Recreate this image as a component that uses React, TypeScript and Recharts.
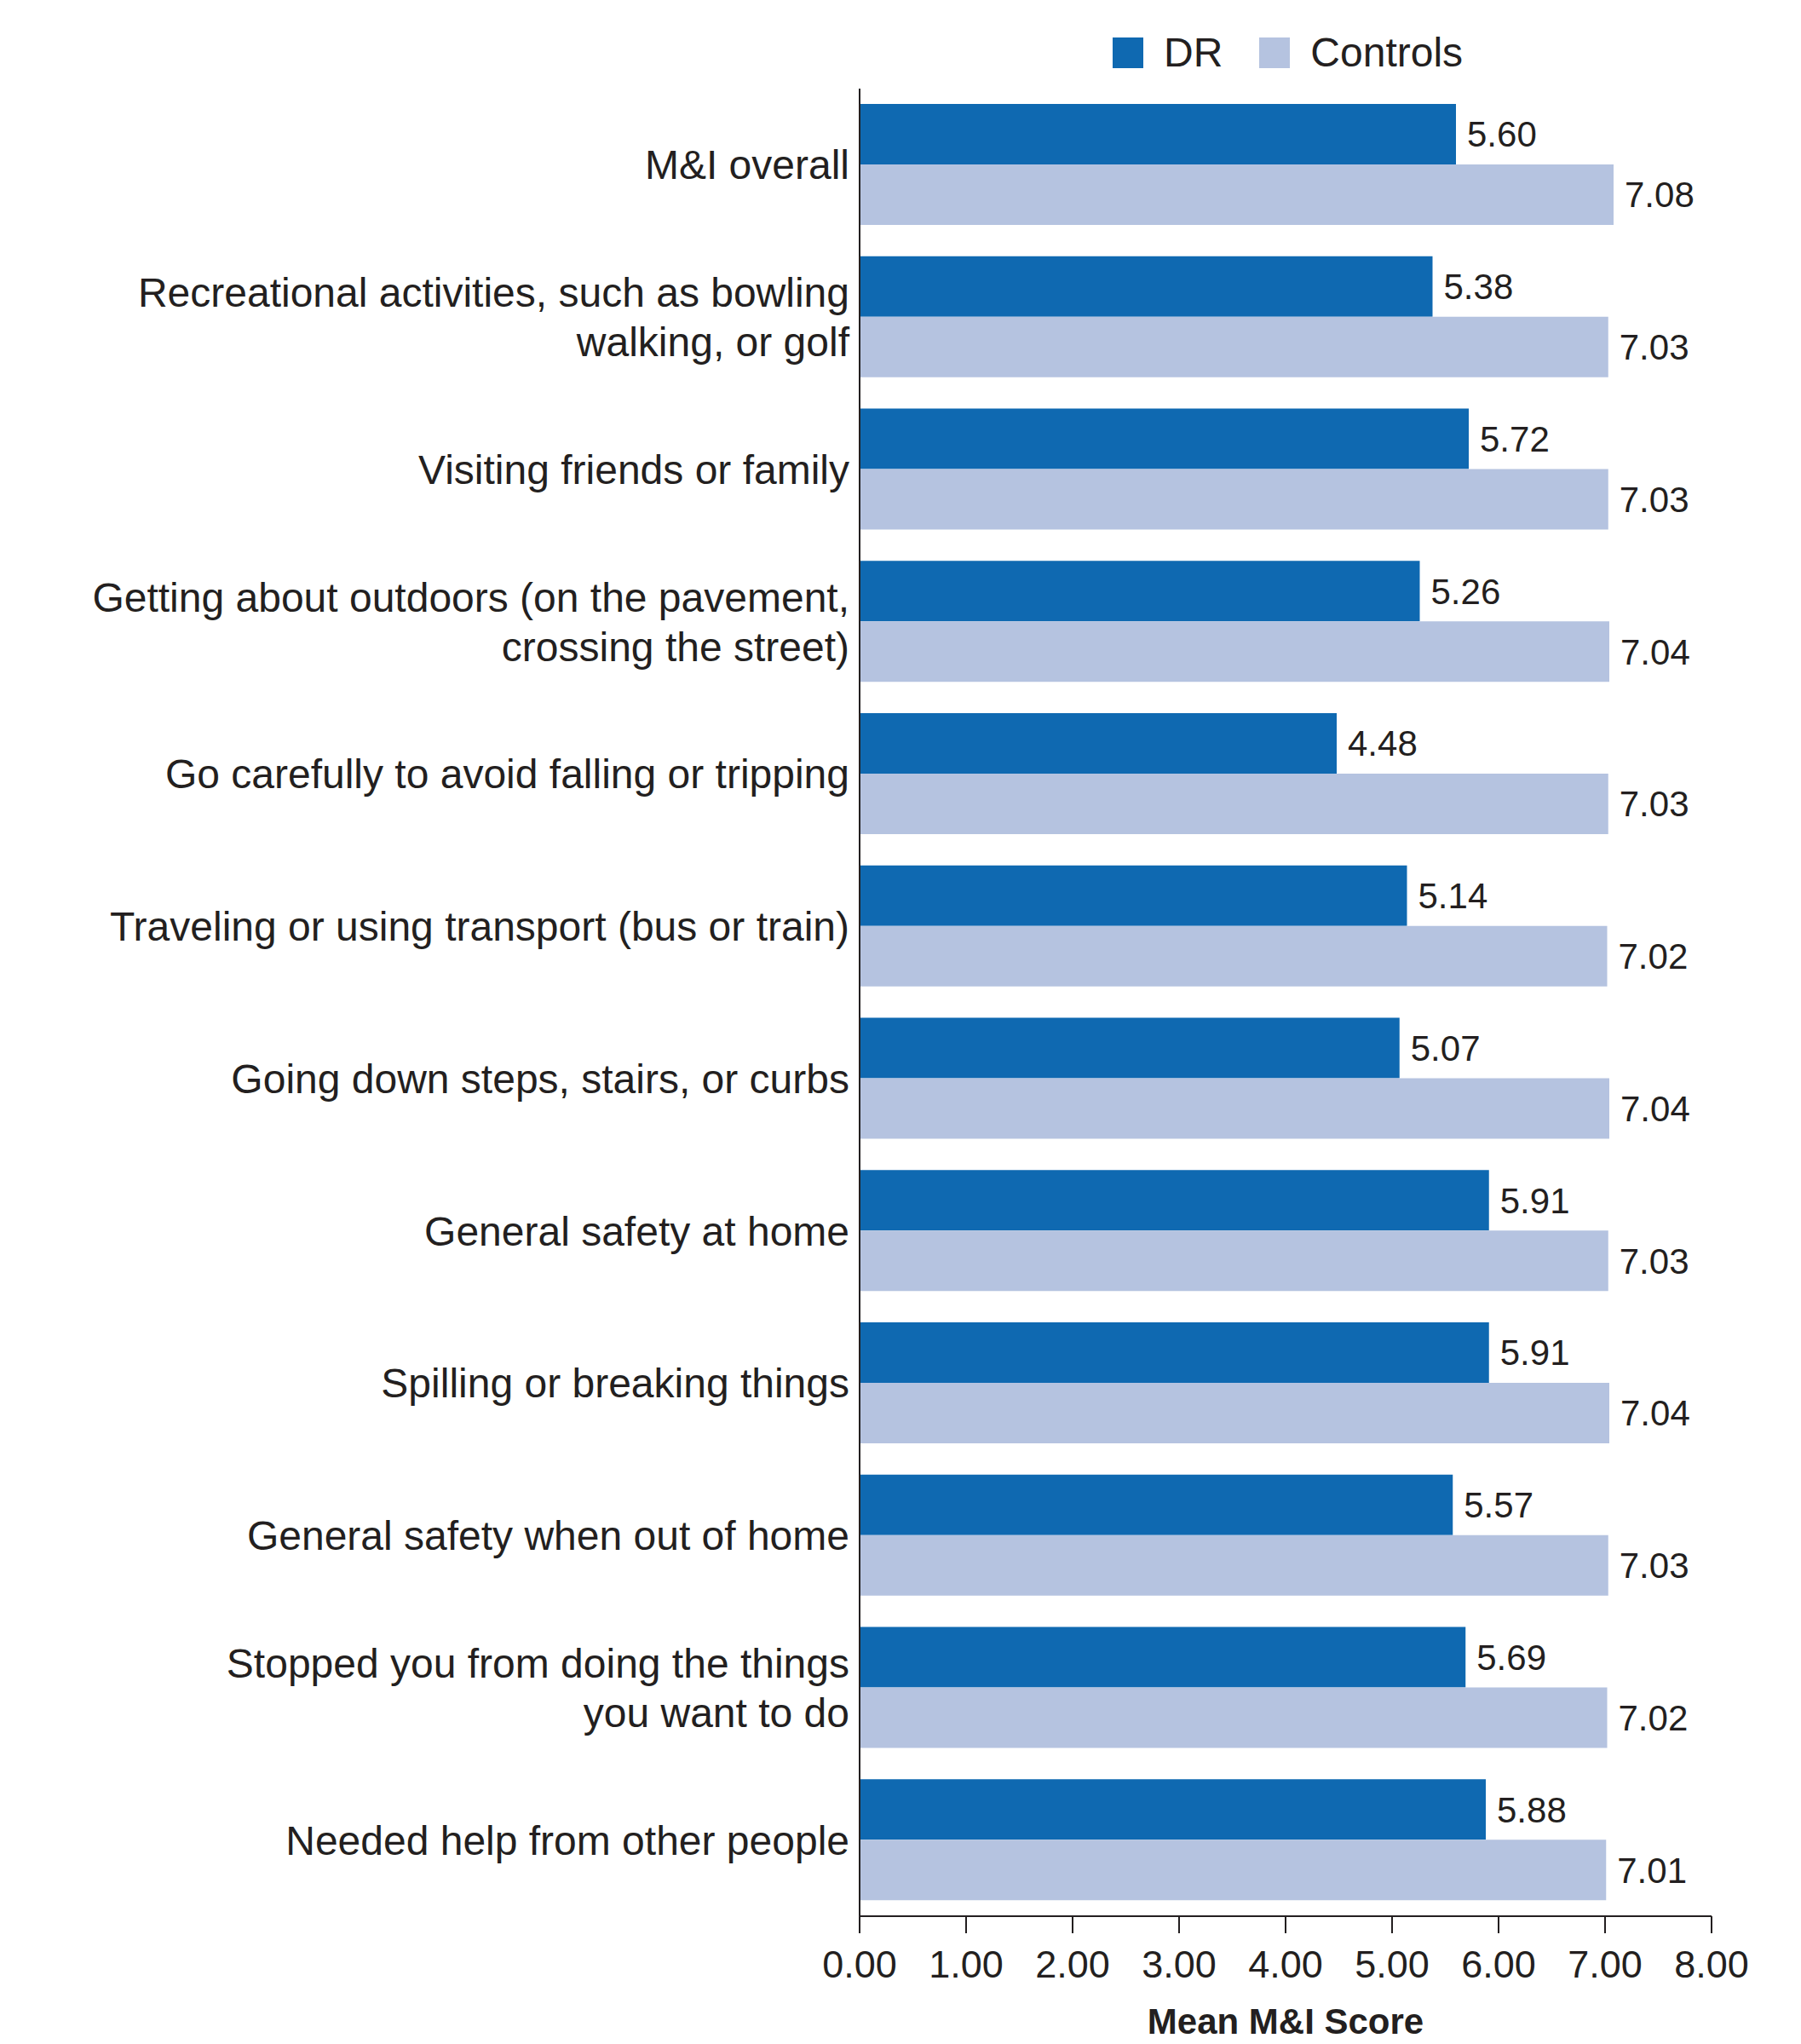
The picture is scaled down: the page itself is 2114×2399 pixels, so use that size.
import React from 'react'
import { BarChart, Bar, XAxis, YAxis, Legend, LabelList } from 'recharts'

const categories = [
  'M&I overall',
  'Recreational activities, such as bowling\nwalking, or golf',
  'Visiting friends or family',
  'Getting about outdoors (on the pavement,\ncrossing the street)',
  'Go carefully to avoid falling or tripping',
  'Traveling or using transport (bus or train)',
  'Going down steps, stairs, or curbs',
  'General safety at home',
  'Spilling or breaking things',
  'General safety when out of home',
  'Stopped you from doing the things\nyou want to do',
  'Needed help from other people',
]

const drValues = [5.6, 5.38, 5.72, 5.26, 4.48, 5.14, 5.07, 5.91, 5.91, 5.57, 5.69, 5.88]
const controlValues = [7.08, 7.03, 7.03, 7.04, 7.03, 7.02, 7.04, 7.03, 7.04, 7.03, 7.02, 7.01]
const xTicks = [0, 1, 2, 3, 4, 5, 6, 7, 8]
const seriesOrder = ['DR', 'Controls']

const data = categories.map((name, i) => ({
  name,
  dr: drValues[i],
  controls: controlValues[i],
}))

const INK = '#231F20'
const DR_COLOR = '#0F69B1'
const CTRL_COLOR = '#B5C3E0'

function CategoryTick(props: any) {
  const { x, y, payload } = props
  const lines = String(payload.value).split('\n')
  const lh = 58
  return (
    <text x={x} y={y} textAnchor="end" fill={INK} fontSize={48}>
      {lines.map((line, i) => (
        <tspan
          key={i}
          x={x}
          dy={i === 0 ? -((lines.length - 1) / 2) * lh + 17 : lh}
        >
          {line}
        </tspan>
      ))}
    </text>
  )
}

function renderLegend(props: any) {
  const items = [...(props.payload || [])].sort(
    (a: any, b: any) => seriesOrder.indexOf(a.value) - seriesOrder.indexOf(b.value)
  )
  return (
    <div style={{ position: 'relative', height: 0 }}>
      <div
        style={{
          position: 'absolute',
          left: 1306,
          top: 44,
          display: 'flex',
          alignItems: 'center',
          height: 36,
        }}
      >
        {items.map((entry: any, i: number) => (
          <div
            key={i}
            style={{ display: 'flex', alignItems: 'center', marginRight: 43 }}
          >
            <div style={{ width: 36, height: 36, background: entry.color, marginRight: 24 }} />
            <span style={{ fontSize: 48, color: INK, lineHeight: '36px' }}>{entry.value}</span>
          </div>
        ))}
      </div>
    </div>
  )
}

export default function App() {
  return (
    <div
      style={{
        position: 'absolute',
        left: 0,
        top: 0,
        width: 2114,
        height: 2399,
        background: '#fff',
        fontFamily: '"Liberation Sans", Arial, sans-serif',
      }}
    >
      <BarChart
        width={2114}
        height={2399}
        data={data}
        layout="vertical"
        margin={{ top: 104, right: 105, bottom: 0, left: 0 }}
        barGap={0}
        barCategoryGap={18}
      >
        <XAxis
          type="number"
          domain={[0, 8]}
          ticks={xTicks}
          tickFormatter={(v: number) => v.toFixed(2)}
          height={150}
          tickSize={20}
          tickMargin={20}
          stroke={INK}
          strokeWidth={2}
          tick={{ fill: INK, fontSize: 45 }}
          label={{
            value: 'Mean M&I Score',
            position: 'insideBottom',
            offset: 12,
            fill: INK,
            fontSize: 42,
            fontWeight: 'bold',
          }}
        />
        <YAxis
          type="category"
          dataKey="name"
          width={1009}
          tickLine={false}
          tickSize={0}
          tickMargin={12}
          stroke={INK}
          strokeWidth={2}
          tick={<CategoryTick />}
          interval={0}
        />
        <Legend
          verticalAlign="top"
          align="left"
          itemSorter={null}
          wrapperStyle={{ top: 0, left: 0, width: 2114 }}
          content={renderLegend}
        />
        <Bar dataKey="dr" name="DR" fill={DR_COLOR} isAnimationActive={false}>
          <LabelList
            dataKey="dr"
            position="right"
            offset={13}
            fill={INK}
            fontSize={42}
            formatter={(v: any) => Number(v).toFixed(2)}
          />
        </Bar>
        <Bar dataKey="controls" name="Controls" fill={CTRL_COLOR} isAnimationActive={false}>
          <LabelList
            dataKey="controls"
            position="right"
            offset={13}
            fill={INK}
            fontSize={42}
            formatter={(v: any) => Number(v).toFixed(2)}
          />
        </Bar>
      </BarChart>
    </div>
  )
}
